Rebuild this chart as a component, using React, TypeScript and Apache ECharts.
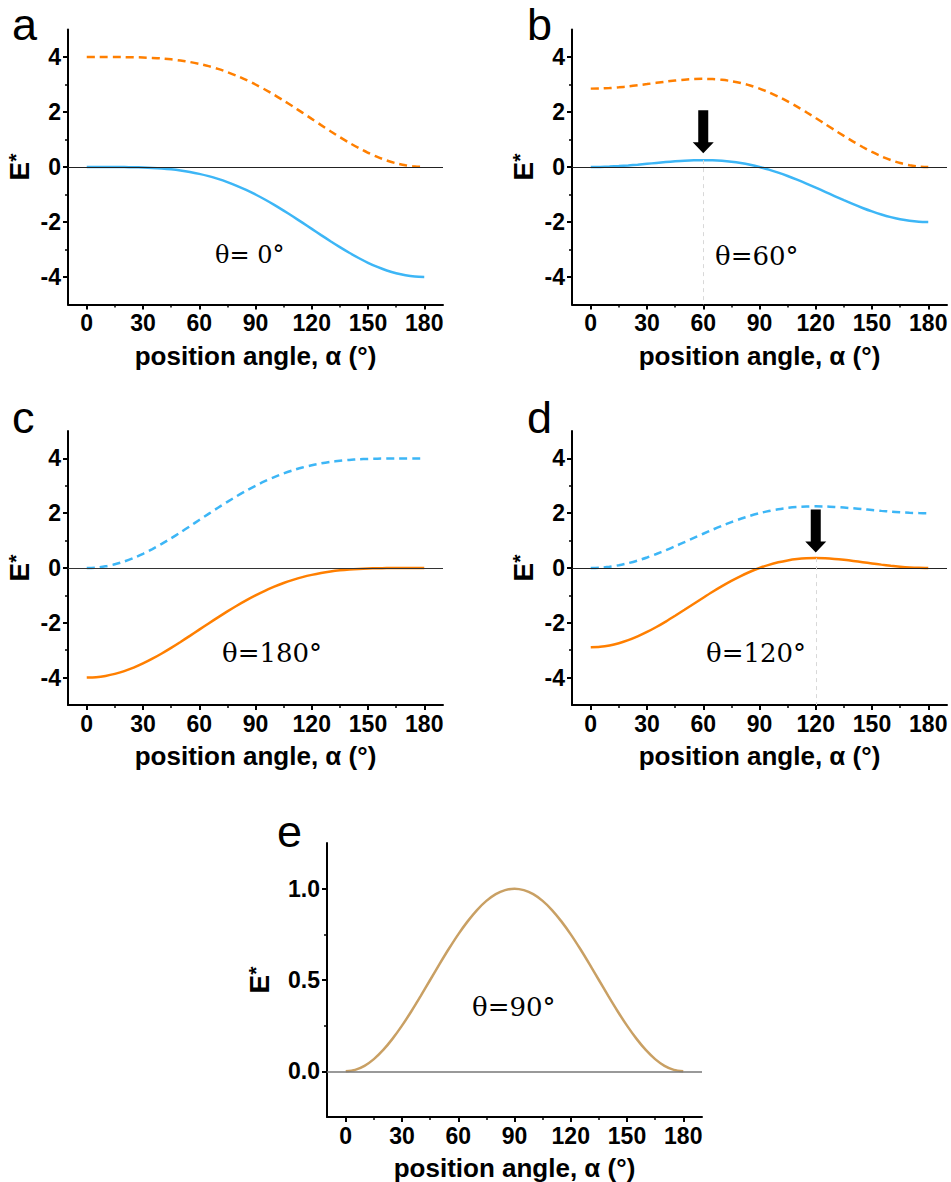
import React, { useEffect, useRef } from "react";
import * as echarts from "echarts";

const ALPHA = [0, 5, 10, 15, 20, 25, 30, 35, 40, 45, 50, 55, 60, 65, 70, 75, 80, 85, 90, 95, 100, 105, 110, 115, 120, 125, 130, 135, 140, 145, 150, 155, 160, 165, 170, 175, 180];

const A_BLUE = [0, 0, 0, -0.001, -0.004, -0.009, -0.018, -0.033, -0.055, -0.086, -0.128, -0.182, -0.25, -0.333, -0.433, -0.549, -0.683, -0.833, -1, -1.182, -1.377, -1.585, -1.801, -2.024, -2.25, -2.476, -2.699, -2.914, -3.119, -3.309, -3.482, -3.634, -3.762, -3.865, -3.939, -3.985, -4];
const A_ORANGE = [4, 4, 4, 3.999, 3.996, 3.991, 3.982, 3.967, 3.945, 3.914, 3.872, 3.818, 3.75, 3.667, 3.567, 3.451, 3.317, 3.167, 3, 2.818, 2.623, 2.415, 2.199, 1.976, 1.75, 1.524, 1.301, 1.086, 0.881, 0.691, 0.518, 0.366, 0.238, 0.135, 0.061, 0.015, 0];
const B_BLUE = [0, 0.004, 0.015, 0.033, 0.057, 0.085, 0.116, 0.148, 0.179, 0.207, 0.23, 0.245, 0.25, 0.244, 0.225, 0.192, 0.144, 0.08, 0, -0.095, -0.204, -0.326, -0.459, -0.601, -0.75, -0.903, -1.056, -1.207, -1.353, -1.49, -1.616, -1.728, -1.823, -1.899, -1.955, -1.989, -2];
const B_ORANGE = [2.85, 2.855, 2.871, 2.897, 2.931, 2.971, 3.015, 3.061, 3.105, 3.145, 3.177, 3.199, 3.206, 3.198, 3.171, 3.123, 3.055, 2.963, 2.85, 2.715, 2.56, 2.386, 2.196, 1.993, 1.781, 1.563, 1.345, 1.13, 0.922, 0.727, 0.547, 0.388, 0.253, 0.144, 0.065, 0.016, 0];
const C_ORANGE = [-4, -3.985, -3.939, -3.865, -3.762, -3.634, -3.482, -3.309, -3.119, -2.914, -2.699, -2.476, -2.25, -2.024, -1.801, -1.585, -1.377, -1.182, -1, -0.833, -0.683, -0.549, -0.433, -0.333, -0.25, -0.182, -0.128, -0.086, -0.055, -0.033, -0.018, -0.009, -0.004, -0.001, 0, 0, 0];
const C_BLUE = [0, 0.015, 0.061, 0.135, 0.238, 0.366, 0.518, 0.691, 0.881, 1.086, 1.301, 1.524, 1.75, 1.976, 2.199, 2.415, 2.623, 2.818, 3, 3.167, 3.317, 3.451, 3.567, 3.667, 3.75, 3.818, 3.872, 3.914, 3.945, 3.967, 3.982, 3.991, 3.996, 3.999, 4, 4, 4];
const D_BLUE = [0, 0.011, 0.045, 0.101, 0.177, 0.272, 0.384, 0.51, 0.647, 0.793, 0.944, 1.097, 1.25, 1.399, 1.541, 1.674, 1.796, 1.905, 2, 2.08, 2.144, 2.192, 2.225, 2.244, 2.25, 2.245, 2.23, 2.207, 2.179, 2.148, 2.116, 2.085, 2.057, 2.033, 2.015, 2.004, 2];
const D_ORANGE = [-2.89, -2.874, -2.825, -2.744, -2.634, -2.497, -2.335, -2.153, -1.955, -1.744, -1.526, -1.305, -1.084, -0.868, -0.663, -0.471, -0.295, -0.137, 0, 0.116, 0.208, 0.277, 0.325, 0.353, 0.361, 0.354, 0.332, 0.299, 0.259, 0.214, 0.168, 0.123, 0.082, 0.048, 0.022, 0.006, 0];
const E_CURVE = [0, 0.008, 0.03, 0.067, 0.117, 0.179, 0.25, 0.329, 0.413, 0.5, 0.587, 0.671, 0.75, 0.821, 0.883, 0.933, 0.97, 0.992, 1, 0.992, 0.97, 0.933, 0.883, 0.821, 0.75, 0.671, 0.587, 0.5, 0.413, 0.329, 0.25, 0.179, 0.117, 0.067, 0.03, 0.008, 0];

const X_TICKS = [0, 30, 60, 90, 120, 150, 180];
const X_MINOR = [15, 45, 75, 105, 135, 165];
const Y_TICKS = [-4, -2, 0, 2, 4];
const Y_MINOR = [-3, -1, 1, 3];
const E_TICKS = [0, 0.5, 1];
const E_MINOR = [0.25, 0.75];

const LETTERS = ["a", "b", "c", "d", "e"];
const THETA_LABELS = ["θ= 0°", "θ=60°", "θ=180°", "θ=120°", "θ=90°"];
const PEAK_B = [60, 0.25];
const PEAK_D = [120, 0.361];

const BLUE = "#3DB6F6";
const ORANGE = "#FF7F00";
const TAN = "#C9A064";
const FONT = '"Liberation Sans", Arial, sans-serif';
const SERIF = '"DejaVu Serif", "Liberation Serif", serif';
const ARROW = "path://M5.5,0 L15.5,0 L15.5,32 L21,32 L10.5,43 L0,32 L5.5,32 Z";

const toPts = (ys: number[]) => ALPHA.map((a, i) => [a, ys[i]]);

export default function App() {
  const ref = useRef<HTMLDivElement>(null);
  useEffect(() => {
    if (!ref.current) return;
    const chart = echarts.init(ref.current, undefined, { renderer: "svg" });

    const grids = [
      { left: 68, top: 29.5, width: 375, height: 275 },
      { left: 572, top: 29.5, width: 375, height: 275 },
      { left: 68, top: 431, width: 375, height: 274 },
      { left: 572, top: 431, width: 375, height: 274 },
      { left: 327, top: 843, width: 375, height: 274.5 },
    ];

    const xAxis: any[] = [];
    const yAxis: any[] = [];
    grids.forEach((g, i) => {
      const isE = i === 4;
      xAxis.push({
        type: "value", gridIndex: i, min: -10, max: 190, position: "bottom",
        axisLine: { show: true, onZero: false, lineStyle: { color: "#000", width: 2 } },
        axisTick: { show: true, inside: false, length: 5, customValues: X_TICKS, lineStyle: { color: "#000", width: 2 } },
        axisLabel: { customValues: X_TICKS, margin: 7, fontSize: 23, fontWeight: "bold", color: "#000", fontFamily: FONT },
        splitLine: { show: false },
        name: "position angle, α (°)", nameLocation: "middle", nameGap: 38,
        nameTextStyle: { fontSize: 26, fontWeight: "bold", color: "#000", fontFamily: FONT },
      });
      xAxis.push({
        type: "value", gridIndex: i, min: -10, max: 190, position: "bottom",
        axisLine: { show: false, onZero: false },
        axisTick: { show: true, inside: false, length: 3, customValues: X_MINOR, lineStyle: { color: "#000", width: 1.5 } },
        axisLabel: { show: false }, splitLine: { show: false },
      });
      yAxis.push({
        type: "value", gridIndex: i, min: isE ? -0.25 : -5, max: isE ? 1.25 : 5, position: "left",
        axisLine: { show: true, onZero: false, lineStyle: { color: "#000", width: 2 } },
        axisTick: { show: true, inside: false, length: 5, customValues: isE ? E_TICKS : Y_TICKS, lineStyle: { color: "#000", width: 2 } },
        axisLabel: {
          customValues: isE ? E_TICKS : Y_TICKS, margin: 7, fontSize: 23, fontWeight: "bold", color: "#000", fontFamily: FONT,
          formatter: (v: number) => (isE ? v.toFixed(1) : String(v)),
        },
        splitLine: { show: false },
        name: "{e|E}{s|*}", nameLocation: "middle", nameRotate: 90, nameGap: isE ? 54 : 35,
        nameTextStyle: {
          color: "#000", fontFamily: FONT,
          rich: {
            e: { fontSize: 28, fontWeight: "bold", fontFamily: FONT, color: "#000" },
            s: { fontSize: 21, fontWeight: "bold", fontFamily: FONT, color: "#000", verticalAlign: "top" },
          },
        },
      });
      yAxis.push({
        type: "value", gridIndex: i, min: isE ? -0.25 : -5, max: isE ? 1.25 : 5, position: "left",
        axisLine: { show: false, onZero: false },
        axisTick: { show: true, inside: false, length: 3, customValues: isE ? E_MINOR : Y_MINOR, lineStyle: { color: "#000", width: 1.5 } },
        axisLabel: { show: false }, splitLine: { show: false },
      });
    });

    const zeroLine = (color: string, width: number) => ({
      silent: true, symbol: ["none", "none"], label: { show: false },
      lineStyle: { color, width, type: "solid" },
      data: [{ yAxis: 0 }],
    });
    const guide = (p: number[]) => [
      { coord: [p[0], p[1]] },
      { coord: [p[0], -5] },
    ];
    const arrow = (p: number[], off: number) => ({
      silent: true,
      symbol: ARROW, symbolSize: [21, 43], symbolOffset: [0, off],
      itemStyle: { color: "#000" }, label: { show: false },
      data: [{ coord: [p[0], p[1]], symbol: ARROW, symbolSize: [21, 43] }],
    });

    const line = (i: number, ys: number[], color: string, dashed: boolean, extra: any = {}) => ({
      type: "line", xAxisIndex: 2 * i, yAxisIndex: 2 * i,
      data: toPts(ys), showSymbol: false, symbol: "none",
      smooth: 0.3,
      lineStyle: { color, width: 2.5, type: dashed ? [8, 5] : "solid" },
      itemStyle: { color },
      z: 3,
      ...extra,
    });

    const series: any[] = [
      line(0, A_ORANGE, ORANGE, true, { markLine: zeroLine("#222", 1) }),
      line(0, A_BLUE, BLUE, false),
      line(1, B_ORANGE, ORANGE, true, { markLine: zeroLine("#222", 1) }),
      line(1, B_BLUE, BLUE, false, {
        markLine: { silent: true, symbol: ["none", "none"], label: { show: false }, lineStyle: { color: "#d8d8d8", width: 1, type: [4, 4] }, data: [guide(PEAK_B)] },
        markPoint: arrow(PEAK_B, -28.5),
      }),
      line(2, C_BLUE, BLUE, true, { markLine: zeroLine("#333", 1) }),
      line(2, C_ORANGE, ORANGE, false),
      line(3, D_BLUE, BLUE, true, { markLine: zeroLine("#222", 1) }),
      line(3, D_ORANGE, ORANGE, false, {
        markLine: { silent: true, symbol: ["none", "none"], label: { show: false }, lineStyle: { color: "#d8d8d8", width: 1, type: [4, 4] }, data: [guide(PEAK_D)] },
        markPoint: arrow(PEAK_D, -27),
      }),
      line(4, E_CURVE, TAN, false, { markLine: zeroLine("#777", 1.5) }),
    ];

    const letterTop = [[12, 2], [527, 2], [12, 394.5], [527, 394.5], [277, 808.5]];
    const thetaPos = [[215, 243, 24], [715, 243, 26], [222, 640, 26], [706, 640, 26], [472, 994, 26]];
    const graphic: any[] = [];
    LETTERS.forEach((l, i) => {
      graphic.push({
        type: "text", left: letterTop[i][0], top: letterTop[i][1],
        style: { text: l, fontSize: 45, fontFamily: FONT, fill: "#000" },
      });
    });
    THETA_LABELS.forEach((t, i) => {
      graphic.push({
        type: "text", left: thetaPos[i][0], top: thetaPos[i][1],
        style: { text: t, fontSize: thetaPos[i][2], fontFamily: SERIF, fill: "#000" },
      });
    });

    chart.setOption({
      animation: false,
      backgroundColor: "#fff",
      grid: grids,
      xAxis, yAxis, series, graphic,
    });
    return () => chart.dispose();
  }, []);

  return <div ref={ref} style={{ position: "absolute", left: 0, top: 0, width: 951, height: 1182 }} />;
}
